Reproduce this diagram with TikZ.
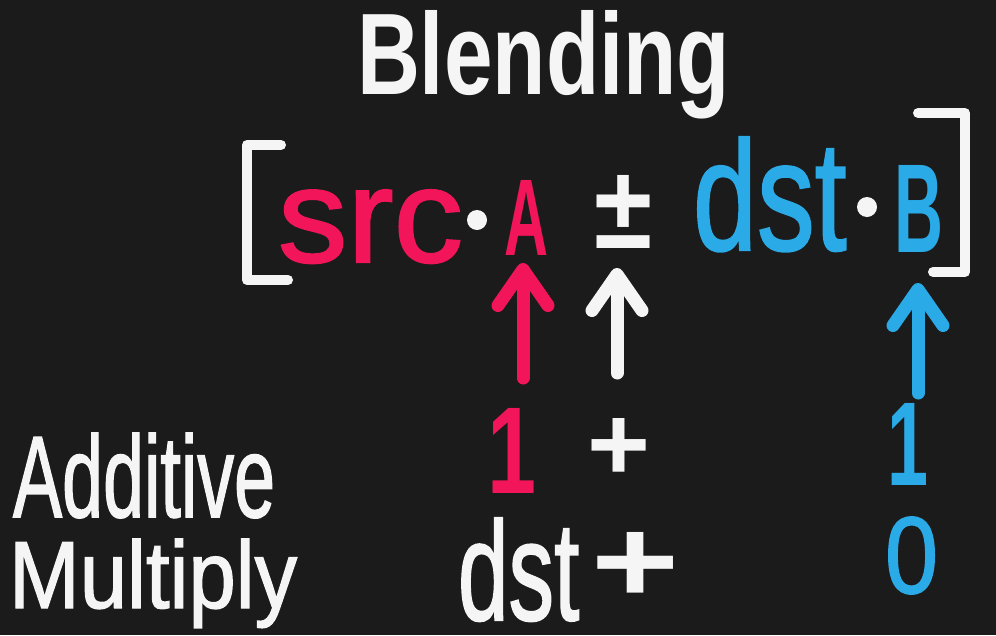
\documentclass[tikz,border=0pt]{standalone}
\usepackage{fontspec}
\setmainfont{Liberation Sans}
% a slightly heavier cut of the regular face, for a marker-pen stroke
\newfontfamily\marker{Liberation Sans}[FakeBold=1.5]
\usepackage{graphicx}
\usetikzlibrary{arrows.meta}

\definecolor{board}{HTML}{1B1B1C}
\definecolor{chalk}{HTML}{F5F5F5}
\definecolor{srcred}{HTML}{F2155A}
\definecolor{dstblue}{HTML}{2AAAE6}

% stretch a piece of text to a given width and height (above baseline), in pt
\newcommand{\fitto}[3]{\resizebox{#1pt}{#2pt}{\marker #3}}
\newcommand{\fitbf}[3]{\resizebox{#1pt}{#2pt}{\bfseries #3}}
% same, but the height counts the descenders too
\newcommand{\fitall}[3]{\resizebox*{#1pt}{#2pt}{\marker #3}}

\tikzset{
  word/.style={inner sep=0pt, outer sep=0pt, anchor=base west},
  blob/.style={circle, fill=chalk, inner sep=0pt, minimum size=20pt},
  bracketline/.style={draw=chalk, line width=10pt, line cap=round, line join=round},
  uparrow/.style={line width=13pt, line cap=round,
    -{Straight Barb[length=36pt, width=50pt, line width=13pt, round]}},
}

\begin{document}
\begin{tikzpicture}[x=1pt, y=-1pt]
  \fill[board] (0,0) rectangle (996,635);
  \useasboundingbox (0,0) rectangle (996,635);

  % title
  \node[word, text=chalk] (title) at (357,94) {\fitbf{373}{84}{Blending}};

  % blend equation
  \node[word, text=srcred] (src) at (278,262) {\fitto{185}{72}{src}};
  \node[blob] (dotA) at (477,220) {};
  \node[word, text=srcred] (A) at (504,255) {\fitbf{44}{75}{A}};
  \node[word, text=chalk] (pm) at (594,248) {\fitbf{58}{73}{±}};
  \node[word, text=dstblue] (dst) at (693,250) {\fitto{157}{113}{dst\kern0.03em}};
  \node[blob] (dotB) at (867,207) {};
  \node[word, text=dstblue] (B) at (894,252) {\fitbf{49}{87}{B}};

  % brackets
  \draw[bracketline] (281,145) -- (247,145) -- (247,280) -- (288,280);
  \draw[bracketline] (918,113) -- (965,113) -- (965,272) -- (933,272);

  % mode rows
  \node[word, text=chalk] (additive) at (13,517) {\fitto{262}{84}{Additive}};
  \node[word, text=srcred] (oneA) at (487,493) {\fitbf{49}{85}{1}};
  \node[word, text=chalk] (plusA) at (587,480) {\fitbf{63}{62}{+}};
  \node[word, text=dstblue] (oneB) at (887,485) {\fitbf{41}{82}{1}};

  \node[word, text=chalk] (multiply) at (9,608) {\fitall{288}{89}{Multiply}};
  \node[word, text=chalk] (dstM) at (458,620) {\fitto{124}{102}{dst\kern0.03em}};
  \node[word, text=chalk] (plusM) at (591,602) {\fitbf{88}{70}{+}};
  \node[word, text=dstblue] (zeroB) at (885,593) {\fitto{53}{76}{0}};

  % arrows pointing up at the factors
  \coordinate (tailA) at (523,378);
  \coordinate (tailOp) at (617,373);
  \coordinate (tailB) at (918,393);
  \draw[uparrow, srcred] (tailA) -- ([yshift=-8pt]tailA |- A.south);
  \draw[uparrow, chalk] (tailOp) -- ([yshift=-20pt]tailOp |- pm.south);
  \draw[uparrow, dstblue] (tailB) -- ([yshift=-31pt]tailB |- B.south);
\end{tikzpicture}
\end{document}
